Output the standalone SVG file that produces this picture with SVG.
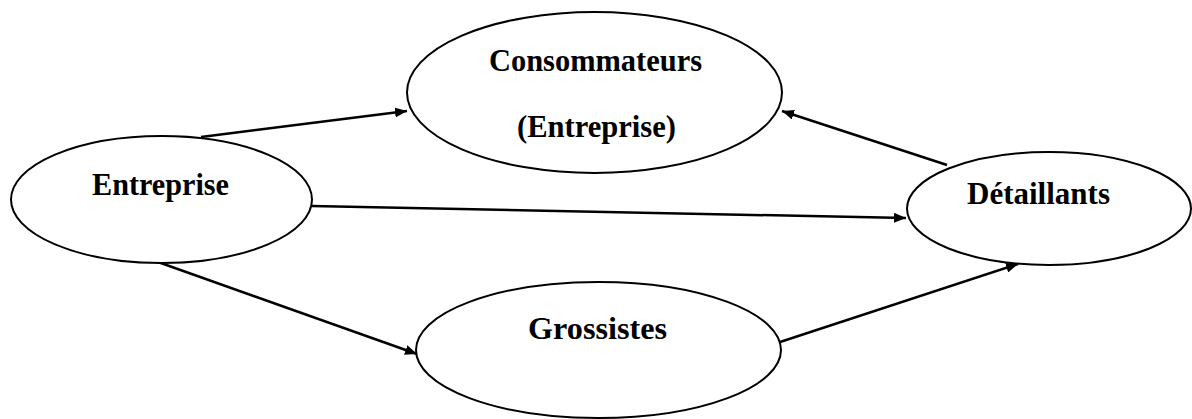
<svg xmlns="http://www.w3.org/2000/svg" width="1192" height="419" viewBox="0 0 1192 419">
  <style>
    .node { fill: #ffffff; stroke: #000000; stroke-width: 2; }
    .label { font-family: "Liberation Serif", "Times New Roman", serif; font-weight: bold; font-size: 32px; fill: #000000; }
    .edge { stroke: #000000; stroke-width: 2.5; fill: none; marker-end: url(#arrow); }
  </style>
  <defs>
    <marker id="arrow" viewBox="0 0 12 10" refX="12" refY="5" markerWidth="12" markerHeight="10" markerUnits="userSpaceOnUse" orient="auto">
      <path d="M0,0 L12,5 L0,10 Z" fill="#000000"/>
    </marker>
  </defs>
  <rect width="1192" height="419" fill="#ffffff"/>

  <g id="connectors">
    <line class="edge" x1="201" y1="137" x2="407" y2="111"/>
    <line class="edge" x1="947" y1="165" x2="782" y2="111"/>
    <line class="edge" x1="312" y1="206" x2="906" y2="218"/>
    <line class="edge" x1="158" y1="262" x2="417" y2="354"/>
    <line class="edge" x1="780" y1="342" x2="1018" y2="264"/>
  </g>

  <g id="consommateurs">
    <ellipse class="node" cx="594.5" cy="92.5" rx="187.5" ry="80.5"/>
    <text class="label" x="489" y="71" textLength="213" lengthAdjust="spacingAndGlyphs">Consommateurs</text>
    <text class="label" x="517" y="137" textLength="159" lengthAdjust="spacingAndGlyphs">(Entreprise)</text>
  </g>

  <g id="entreprise">
    <ellipse class="node" cx="161.5" cy="199.5" rx="150.5" ry="63.5"/>
    <text class="label" x="92" y="195" textLength="137" lengthAdjust="spacingAndGlyphs">Entreprise</text>
  </g>

  <g id="detaillants">
    <ellipse class="node" cx="1049" cy="208.5" rx="142" ry="56.5"/>
    <text class="label" x="967" y="204" textLength="143" lengthAdjust="spacingAndGlyphs">Détaillants</text>
  </g>

  <g id="grossistes">
    <ellipse class="node" cx="598.5" cy="350" rx="182.5" ry="68"/>
    <text class="label" x="528" y="339" textLength="139" lengthAdjust="spacingAndGlyphs">Grossistes</text>
  </g>
</svg>
